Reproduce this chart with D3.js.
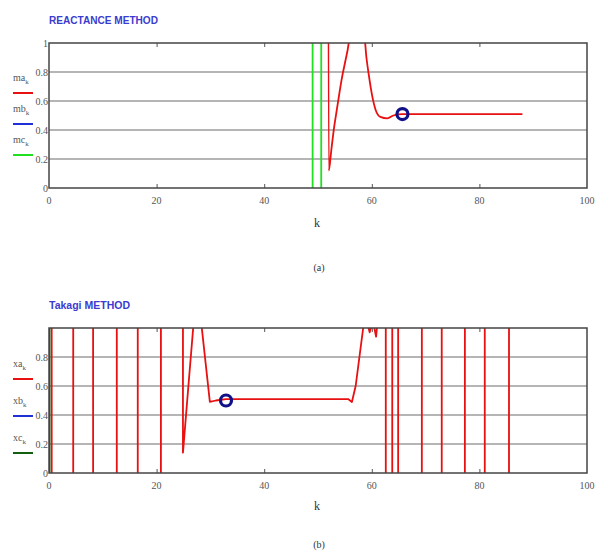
<!DOCTYPE html>
<html>
<head>
<meta charset="utf-8">
<script src="https://cdn.jsdelivr.net/npm/d3@7"></script>
<style>
  body { margin: 0; background: #fff; }
  .tick-label { font-family: "Liberation Serif", serif; font-size: 10px; fill: #555; }
</style>
</head>
<body>
<div id="chart"></div>
<script>
// x ticks shared by both panels
var xTicks = [0, 20, 40, 60, 80, 100];
var yTicksA = [0, 0.2, 0.4, 0.6, 0.8, 1];
var yTicksB = [0, 0.2, 0.4, 0.6, 0.8];

// Reactance method: [k, value]; values far outside 0..1 are clipped (Mathcad style)
var maSeries = [[51.5, 20], [52, 0.12], [52.5, 0.27], [53, 0.42], [53.5, 0.54], [54, 0.66],
  [54.5, 0.77], [55, 0.86], [55.5, 0.95], [56, 1.05], [58.5, 1.08], [59, 0.9], [59.4, 0.79],
  [60.1, 0.63], [60.7, 0.54], [61.6, 0.49], [62.9, 0.48], [64, 0.5], [65.7, 0.51], [88, 0.51]];
var mbSeries = [[65.7, 0.51]];
var mcSeries = [[48.95, 20], [49.05, -20], [50.55, -20], [50.65, 20]];

// Takagi method
var xaJumps1 = [0.5, 4.5, 8.2, 12.6, 16.5, 20.8];
var xaMiddle = [[24.85, 20], [24.9, 0.14], [25.8, 0.55], [26.8, 1.0], [27.5, 1.3], [28.4, 1.0],
  [29.9, 0.49], [31, 0.5], [32.9, 0.51], [55.6, 0.51], [56.3, 0.49], [57, 0.6], [58.4, 1.0],
  [59, 1.06], [59.6, 0.97], [60.2, 1.05], [60.8, 0.94], [61.2, 1.1]];
var xaJumps2 = [62.6, 63.8, 64.9, 69.3, 73, 77.3, 81, 85.5];
var xbSeries = [[32.9, 0.5]];
var xcSeries = [[0.05, 20], [0.15, -20]];

// build xa from its jump points (each jump: off-scale high <-> low)
function jumps(ks, startHigh) {
  var pts = [], s = startHigh ? 1 : -1;
  ks.forEach(function(k) {
    pts.push([k - 0.05, 20 * s]);
    pts.push([k + 0.05, -20 * s]);
    s = -s;
  });
  return pts;
}
var xaSeries = jumps(xaJumps1, true).concat(xaMiddle, jumps(xaJumps2, true));

var W = 596, H = 551;
var svg = d3.select("#chart").append("svg").attr("width", W).attr("height", H);

function drawPanel(p) {
  var x = d3.scaleLinear().domain([0, 100]).range([49, 587]);
  var y = d3.scaleLinear().domain([0, 1]).range([p.bottom, p.top]);
  var g = svg.append("g");

  g.append("text").attr("x", 49).attr("y", p.titleY)
    .attr("textLength", p.titleW).attr("lengthAdjust", "spacingAndGlyphs")
    .style("font-family", "Liberation Sans, Arial, sans-serif").style("font-weight", "bold")
    .style("font-size", "11px").style("fill", "#3b3bcf").text(p.title);

  // grid
  g.selectAll(".grid").data([0.2, 0.4, 0.6, 0.8]).enter().append("line")
    .attr("x1", x(0)).attr("x2", x(100)).attr("y1", y).attr("y2", y)
    .attr("stroke", "#9c9c9c").attr("stroke-width", 1.5);

  // ticks inside top/bottom
  g.append("g").attr("transform", "translate(0," + p.bottom + ")")
    .call(d3.axisBottom(x).tickValues(xTicks.slice(1, -1)).tickSize(-4).tickFormat(""))
    .call(function(a) { a.select(".domain").remove(); a.selectAll("line").attr("stroke", "#555"); });
  g.append("g").attr("transform", "translate(0," + p.top + ")")
    .call(d3.axisTop(x).tickValues(xTicks.slice(1, -1)).tickSize(-4).tickFormat(""))
    .call(function(a) { a.select(".domain").remove(); a.selectAll("line").attr("stroke", "#555"); });

  var clipId = "clip" + p.id;
  svg.append("clipPath").attr("id", clipId).append("rect")
    .attr("x", x(0)).attr("y", p.top).attr("width", x(100) - x(0)).attr("height", p.bottom - p.top);

  var line = d3.line().x(function(d) { return x(d[0]); }).y(function(d) { return y(d[1]); })
    .curve(p.smooth ? d3.curveMonotoneX : d3.curveLinear);
  var data = g.append("g").attr("clip-path", "url(#" + clipId + ")");
  p.series.forEach(function(s) {
    if (s.marker) {
      data.selectAll(null).data(s.data).enter().append("circle")
        .attr("cx", function(d) { return x(d[0]); }).attr("cy", function(d) { return y(d[1]); })
        .attr("r", 5.5).attr("fill", "none").attr("stroke", "#101088").attr("stroke-width", 3.2);
    } else {
      data.append("path").attr("d", line(s.data)).attr("fill", "none")
        .attr("stroke", s.color).attr("stroke-width", 1.8).attr("stroke-linejoin", "round");
    }
  });

  // border
  g.append("rect").attr("x", x(0)).attr("y", p.top).attr("width", x(100) - x(0))
    .attr("height", p.bottom - p.top).attr("fill", "none").attr("stroke", "#444").attr("stroke-width", 1.5);

  // tick labels
  g.selectAll(".xl").data(xTicks).enter().append("text").attr("class", "tick-label")
    .attr("x", x).attr("y", p.bottom + 16).attr("text-anchor", "middle").text(function(d) { return d; });
  g.selectAll(".yl").data(p.yTicks).enter().append("text").attr("class", "tick-label")
    .attr("x", 48).attr("y", function(d) { return y(d) + 3.5; }).attr("text-anchor", "end")
    .text(function(d) { return d; });

  g.append("text").attr("x", 317).attr("y", p.kY).attr("text-anchor", "middle")
    .style("font-family", "Liberation Serif, serif").style("font-size", "12px").style("fill", "#333").text("k");
  g.append("text").attr("x", 319).attr("y", p.capY).attr("text-anchor", "middle")
    .style("font-family", "Liberation Serif, serif").style("font-size", "10px").style("fill", "#333").text(p.caption);

  // legend
  p.series.forEach(function(s, i) {
    var t = g.append("text").attr("x", 13).attr("y", p.legY[i])
      .style("font-family", "Liberation Serif, serif").style("font-size", "10px").style("fill", "#555");
    t.append("tspan").text(s.name);
    t.append("tspan").attr("dy", 3).style("font-size", "7px").text("k");
    g.append("line").attr("x1", 13).attr("x2", 33).attr("y1", p.legY[i] + 12).attr("y2", p.legY[i] + 12)
      .attr("stroke", s.color).attr("stroke-width", 2);
  });
}

drawPanel({
  id: "a", title: "REACTANCE METHOD", titleY: 24, titleW: 109, top: 43, bottom: 188, smooth: true,
  yTicks: yTicksA, kY: 227, capY: 271, caption: "(a)", legY: [81, 112, 143],
  series: [
    { name: "ma", color: "#e81010", data: maSeries },
    { name: "mb", color: "#2030d8", data: mbSeries, marker: true },
    { name: "mc", color: "#20e020", data: mcSeries }
  ]
});
drawPanel({
  id: "b", title: "Takagi METHOD", titleY: 309, titleW: 81, top: 328, bottom: 473, smooth: false,
  yTicks: yTicksB, kY: 510, capY: 548, caption: "(b)", legY: [367, 404, 441],
  series: [
    { name: "xa", color: "#e81010", data: xaSeries },
    { name: "xb", color: "#2030d8", data: xbSeries, marker: true },
    { name: "xc", color: "#106010", data: xcSeries }
  ]
});
</script>
</body>
</html>
